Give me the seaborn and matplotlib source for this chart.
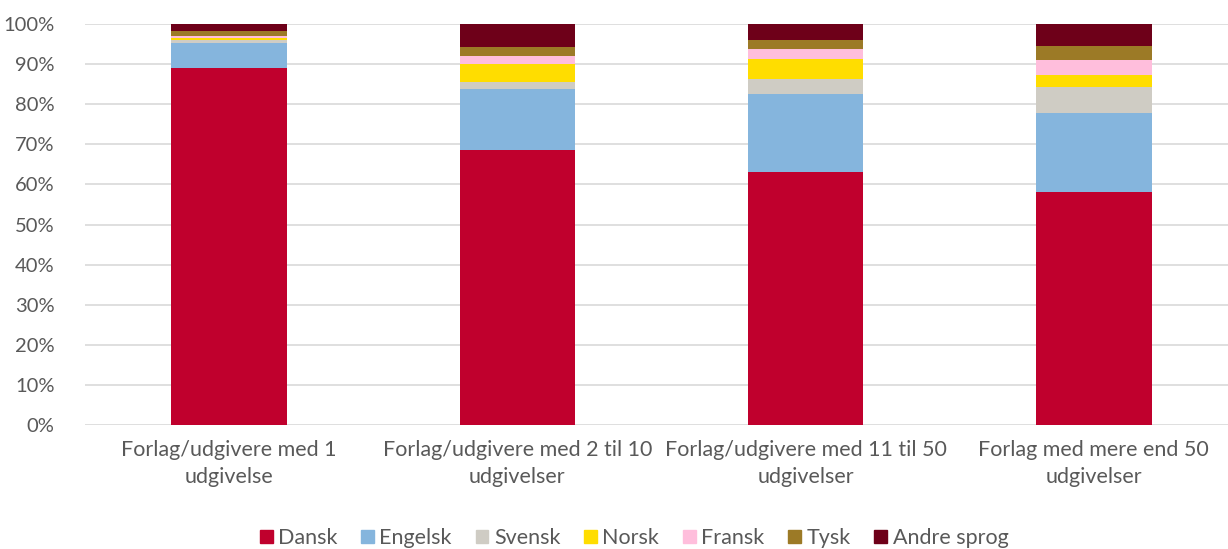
import matplotlib
matplotlib.use("Agg")
import matplotlib.pyplot as plt
import matplotlib.patches as mpatches
import seaborn as sns
import pandas as pd
import numpy as np

# data (percent shares)
categories = [
    "Forlag/udgivere med 1\nudgivelse",
    "Forlag/udgivere med 2 til 10\nudgivelser",
    "Forlag/udgivere med 11 til 50\nudgivelser",
    "Forlag med mere end 50\nudgivelser",
]
languages = ["Dansk", "Engelsk", "Svensk", "Norsk", "Fransk", "Tysk", "Andre sprog"]
dansk = [89.0, 68.6, 63.1, 58.2]
engelsk = [6.2, 15.3, 19.5, 19.7]
svensk = [0.8, 1.7, 3.8, 6.5]
norsk = [0.5, 4.5, 4.9, 2.8]
fransk = [0.5, 2.0, 2.4, 3.9]
tysk = [1.25, 2.2, 2.2, 3.4]
andre = [1.75, 5.7, 4.1, 5.5]

colors = ["#C0002D", "#85B5DD", "#CFCCC4", "#FFDD00", "#FFBEDC", "#9C7A26", "#6E0019"]
text_color = "#595959"

sns.set_style("white")
plt.rcParams['font.family'] = ['Lato', 'DejaVu Sans']

series = [dansk, engelsk, svensk, norsk, fransk, tysk, andre]
df = pd.DataFrame({lang: vals for lang, vals in zip(languages, series)}, index=categories)
cum = df.cumsum(axis=1)

fig = plt.figure(figsize=(12.28, 5.49), dpi=100)
ax = fig.add_axes([85 / 1228, 1 - 425 / 549, (1238 - 85) / 1228, (425 - 24) / 549])

# draw from top layer down so each cumulative bar overlays the next
for lang, col in reversed(list(zip(languages, colors))):
    sns.barplot(x=categories, y=cum[lang].values, color=col, width=0.4,
                saturation=1, ax=ax, zorder=2, edgecolor="none")

ax.set_ylim(0, 100)
ax.set_xlim(-0.5, 3.5)
ax.set_yticks(np.arange(0, 101, 10))
ax.set_yticklabels([f"{v}%" for v in range(0, 101, 10)])
ax.yaxis.grid(True, color="#D9D9D9", linewidth=1.2, zorder=0)
ax.set_axisbelow(True)
for s in ax.spines.values():
    s.set_visible(False)
ax.tick_params(axis="both", length=0, colors=text_color)
ax.tick_params(axis="y", pad=22, labelsize=14.5)
ax.tick_params(axis="x", pad=11, labelsize=15.5)
for lab in ax.get_xticklabels():
    lab.set_linespacing(1.45)
ax.set_xlabel("")
ax.set_ylabel("")

handles = [mpatches.Patch(color=c, label=l) for l, c in zip(languages, colors)]
fig.legend(handles=handles, loc="center", bbox_to_anchor=(634 / 1228, 1 - 538 / 549),
           ncol=7, frameon=False, fontsize=15.5, labelcolor=text_color,
           handlelength=0.6, handleheight=0.6, handletextpad=0.25, columnspacing=1.1)

fig.savefig("out.png", dpi=100)
